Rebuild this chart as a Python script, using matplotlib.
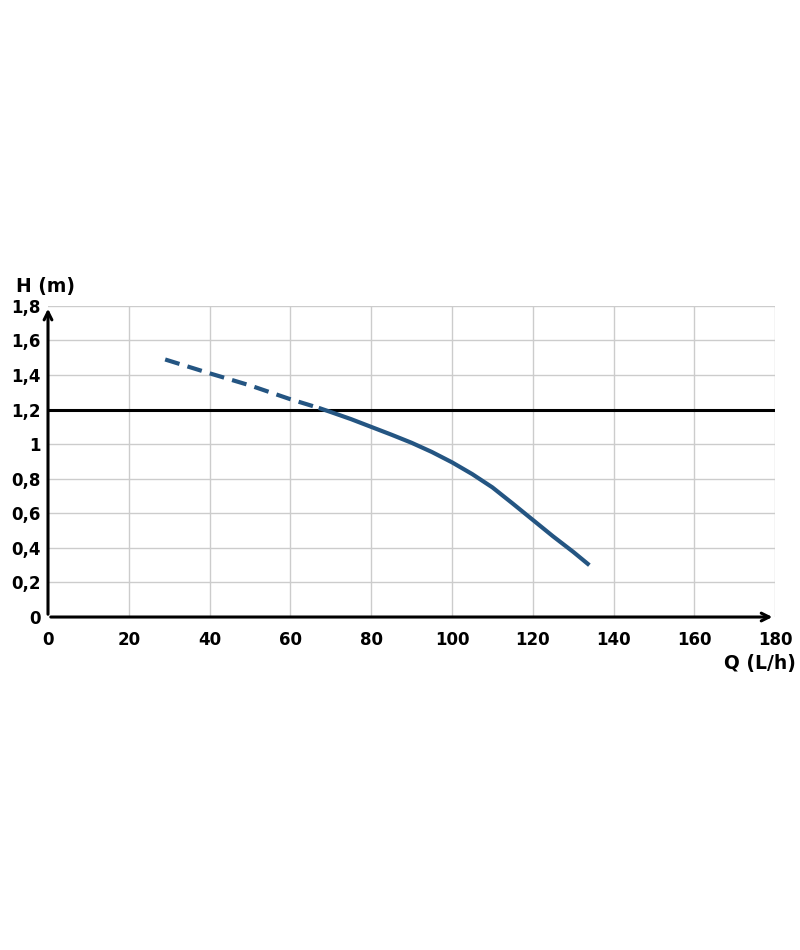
import matplotlib
matplotlib.use("Agg")
import matplotlib.pyplot as plt

# Data
q_dashed = [29, 40, 50, 60, 67]
h_dashed = [1.49, 1.41, 1.34, 1.26, 1.21]
q_solid = [67, 70, 75, 80, 85, 90, 95, 100, 105, 110, 115, 120, 125, 130, 134]
h_solid = [1.21, 1.186, 1.145, 1.100, 1.055, 1.008, 0.955, 0.895, 0.827, 0.750, 0.657, 0.562, 0.467, 0.377, 0.30]
ref_head = 1.2
x_ticks = [0, 20, 40, 60, 80, 100, 120, 140, 160, 180]
x_labels = ["0", "20", "40", "60", "80", "100", "120", "140", "160", "180"]
y_ticks = [0, 0.2, 0.4, 0.6, 0.8, 1.0, 1.2, 1.4, 1.6, 1.8]
y_labels = ["0", "0,2", "0,4", "0,6", "0,8", "1", "1,2", "1,4", "1,6", "1,8"]

curve_color = "#245582"
font = dict(family="DejaVu Sans", fontweight="bold", fontsize=12)

fig = plt.figure(figsize=(8, 9.5), dpi=100)
ax = fig.add_axes([0.06, 0.3505, 0.909, 0.3275])
ax.set_xlim(0, 180)
ax.set_ylim(0, 1.8)

for x in x_ticks[1:]:
    ax.axvline(x, color="#cccccc", lw=1, zorder=1)
for y in y_ticks[1:]:
    ax.axhline(y, color="#cccccc", lw=1, zorder=1)

for s in ax.spines.values():
    s.set_visible(False)

ax.axhline(ref_head, color="black", lw=2.2, zorder=3)
ax.plot(q_dashed, h_dashed, color=curve_color, lw=3, ls=(0, (3.6, 2)), zorder=4)
ax.plot(q_solid, h_solid, color=curve_color, lw=3, zorder=4, solid_capstyle="butt",
        solid_joinstyle="round")

# axes with arrows
ax.annotate("", xy=(1.0, 0), xytext=(0, 0), xycoords="axes fraction",
            arrowprops=dict(arrowstyle="->", lw=2.2, color="black", mutation_scale=14),
            annotation_clip=False, zorder=5)
ax.annotate("", xy=(0, 1.0), xytext=(0, 0), xycoords="axes fraction",
            arrowprops=dict(arrowstyle="->", lw=2.2, color="black", mutation_scale=14),
            annotation_clip=False, zorder=5)

ax.set_xticks(x_ticks)
ax.set_xticklabels(x_labels, **font)
ax.set_yticks(y_ticks)
ax.set_yticklabels(y_labels, **font)
ax.tick_params(axis="x", length=0, pad=10)
ax.tick_params(axis="y", length=0, pad=5)

fig.text(0.02, 0.698, "H (m)", ha="left", va="center", **{**font, "fontsize": 13.5})
fig.text(0.995, 0.302, "Q (L/h)", ha="right", va="center", **{**font, "fontsize": 13.5})

fig.savefig("out.png", dpi=100)
